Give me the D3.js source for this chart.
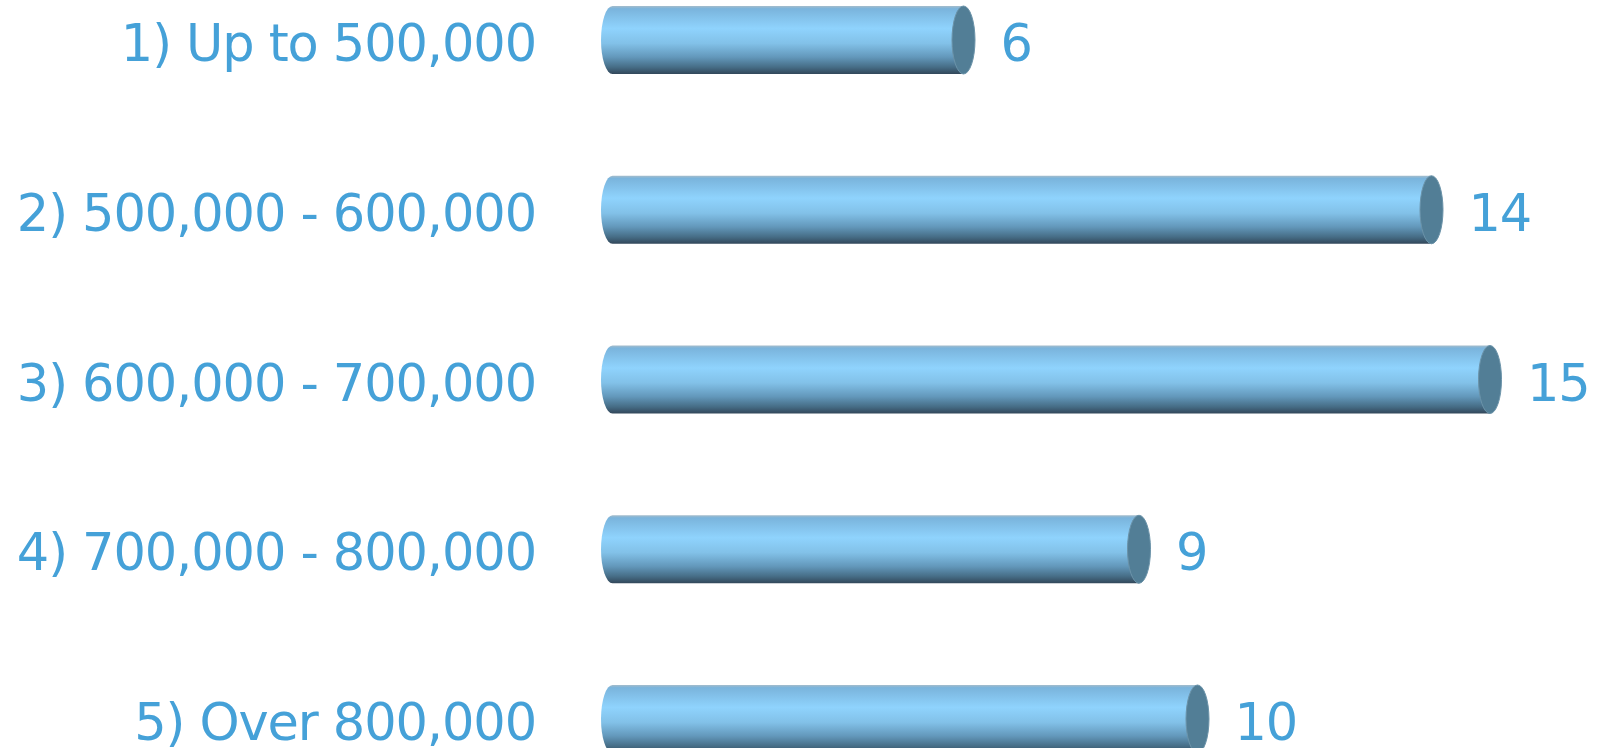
<!DOCTYPE html>
<html>
<head>
<meta charset="utf-8">
<script src="https://cdn.jsdelivr.net/npm/d3@7"></script>
<style>
    body { margin: 0; background: #fff; }
    svg { display: block; }
</style>
</head>
<body>
<svg id="chart"></svg>
<script>
    // data
    var categories = ["1) Up to 500,000", "2) 500,000 - 600,000", "3) 600,000 - 700,000",
        "4) 700,000 - 800,000", "5) Over 800,000"];
    var values = [6, 14, 15, 9, 10];

    var vWidth = 1599;
    var vHeight = 748;
    var textColor = "#45a1d8";

    var svg = d3.select("#chart")
        .attr("width", vWidth)
        .attr("height", vHeight);

    var x = d3.scaleLinear().domain([0, 15]).range([612.5, 1490]);
    var y = d3.scalePoint().domain(categories).range([40, 719]);

    var ry = 34, rx = 11.5;

    // cylinder shading
    var grad = svg.append("defs").append("linearGradient")
        .attr("id", "cyl")
        .attr("x1", 0).attr("y1", 0).attr("x2", 0).attr("y2", 1);
    [["0%", "#a4bccb"], ["4%", "#7ab4dc"], ["33%", "#8fd3fd"], ["55%", "#82c1e8"],
        ["75%", "#6398bb"], ["90%", "#466d86"], ["100%", "#32475a"]].forEach(function (s) {
        grad.append("stop").attr("offset", s[0]).attr("stop-color", s[1]);
    });

    var rows = categories.map(function (c, i) {
        return {cat: c, value: values[i]};
    });

    var g = svg.selectAll("g.row").data(rows).enter().append("g").attr("class", "row");

    // body
    g.append("path")
        .attr("fill", "url(#cyl)")
        .attr("d", function (d) {
            var x0 = x(0), x1 = x(d.value), cy = y(d.cat);
            return "M" + x0 + "," + (cy - ry) + "L" + x1 + "," + (cy - ry) +
                "L" + x1 + "," + (cy + ry) + "L" + x0 + "," + (cy + ry) +
                "A" + rx + "," + ry + " 0 0 1 " + x0 + "," + (cy - ry) + "Z";
        });

    // end cap
    g.append("ellipse")
        .attr("cx", function (d) { return x(d.value); })
        .attr("cy", function (d) { return y(d.cat); })
        .attr("rx", rx)
        .attr("ry", ry)
        .attr("fill", "#527e96")
        .attr("stroke", "#6b93a9")
        .attr("stroke-width", 1);

    // category labels
    g.append("text")
        .attr("x", 536)
        .attr("y", function (d) { return y(d.cat) + 21; })
        .attr("text-anchor", "end")
        .attr("font-family", "'DejaVu Sans', Verdana, sans-serif")
        .attr("font-size", 51)
        .attr("letter-spacing", -1.1)
        .attr("fill", textColor)
        .text(function (d) { return d.cat; });

    // value labels
    g.append("text")
        .attr("x", function (d) { return x(d.value) + 37; })
        .attr("y", function (d) { return y(d.cat) + 21; })
        .attr("font-family", "'DejaVu Sans', Verdana, sans-serif")
        .attr("font-size", 51)
        .attr("letter-spacing", -1.1)
        .attr("fill", textColor)
        .text(function (d) { return d.value; });
</script>
</body>
</html>
